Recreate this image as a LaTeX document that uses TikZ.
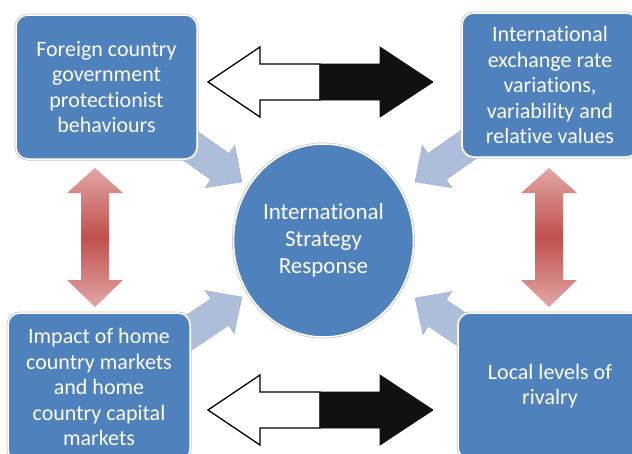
\documentclass[tikz,border=0pt]{standalone}
\usepackage{fontspec}
\setmainfont{Carlito}[Ligatures=NoCommon]
\usetikzlibrary{shapes.geometric}
\definecolor{boxblue}{HTML}{4F81BD}
\definecolor{lightarrow}{HTML}{ADBEDA}
\definecolor{lightedge}{HTML}{97AACB}
\definecolor{redlight}{HTML}{E3A6A5}
\definecolor{reddark}{HTML}{C0504D}
\definecolor{arrowblack}{HTML}{111111}
\begin{document}
\begin{tikzpicture}[x=1pt,y=-1pt,
  box/.style={rectangle, rounded corners=12pt, fill=boxblue, draw=white,
    line width=1.5pt, text=white, align=center, inner sep=0pt,
    font=\fontsize{22}{25.5}\selectfont,
    preaction={draw=black!22, line width=3pt}},
  hub/.style={ellipse, fill=boxblue, draw=white, line width=1.5pt,
    text=white, align=center, inner sep=0pt,
    font=\fontsize{23}{26.7}\selectfont,
    preaction={draw=black!22, line width=3pt}},
  blockarrow/.pic={
    \fill[lightarrow, draw=lightedge, line width=0.5pt, dash pattern=on 1.5pt off 1pt]
      (0,0) -- (-27,-26) -- (-27,-16) -- (-95,-16) -- (-95,16) -- (-27,16) -- (-27,26) -- cycle;},
  redarrow/.style={top color=redlight, bottom color=redlight, middle color=reddark},
  whitearrow/.style={fill=white, draw=black, line width=1.3pt, line join=miter},
  blackarrow/.style={fill=arrowblack, draw=arrowblack, line width=0.8pt, line join=miter}
  ]
\useasboundingbox (0,0) rectangle (632,453);
\clip (0,0) rectangle (632,453);
\fill[white] (0,0) rectangle (632,453);

% tips of the light arrows pointing to the hub
\coordinate (tlTip) at (242,182);
\coordinate (trTip) at (415,182);
\coordinate (blTip) at (242,297);
\coordinate (brTip) at (415,298);
\pic[rotate=-35] at (tlTip) {blockarrow};
\pic[rotate=-145] at (trTip) {blockarrow};
\pic[rotate=34] at (blTip) {blockarrow};
\pic[rotate=146] at (brTip) {blockarrow};

% red vertical double arrows
\shade[redarrow] (95,168) -- (123,193) -- (109,193) -- (109,280) -- (123,280) -- (95,307)
  -- (67,280) -- (81,280) -- (81,193) -- (67,193) -- cycle;
\shade[redarrow] (549,168) -- (577,193) -- (563,193) -- (563,280) -- (577,280) -- (549,307)
  -- (521,280) -- (535,280) -- (535,193) -- (521,193) -- cycle;

% horizontal white/black double arrows
\foreach \yy in {82,410}{
  \draw[whitearrow] (208,\yy) -- (260,\yy-35) -- (260,\yy-18) -- (320,\yy-18)
    -- (320,\yy+18) -- (260,\yy+18) -- (260,\yy+35) -- cycle;
  \filldraw[blackarrow] (320,\yy-18) -- (380,\yy-18) -- (380,\yy-35) -- (433,\yy)
    -- (380,\yy+35) -- (380,\yy+18) -- (320,\yy+18) -- cycle;
}

% boxes and hub
\node[box, minimum width=181pt, minimum height=144pt] (tl) at (106.5,87)
  {Foreign country\\government\\protectionist\\behaviours};
\node[box, minimum width=176pt, minimum height=144pt] (tr) at (550,85)
  {International\\exchange rate\\variations,\\variability and\\relative values};
\node[box, minimum width=182pt, minimum height=148pt] (bl) at (99,387)
  {Impact of home\\country markets\\and home\\country capital\\markets};
\node[box, minimum width=184pt, minimum height=146pt] (br) at (550,386)
  {Local levels of\\rivalry};
\node[hub, minimum width=180pt, minimum height=193pt] (c) at (323.5,240.5)
  {International\\Strategy\\Response};
\end{tikzpicture}
\end{document}
